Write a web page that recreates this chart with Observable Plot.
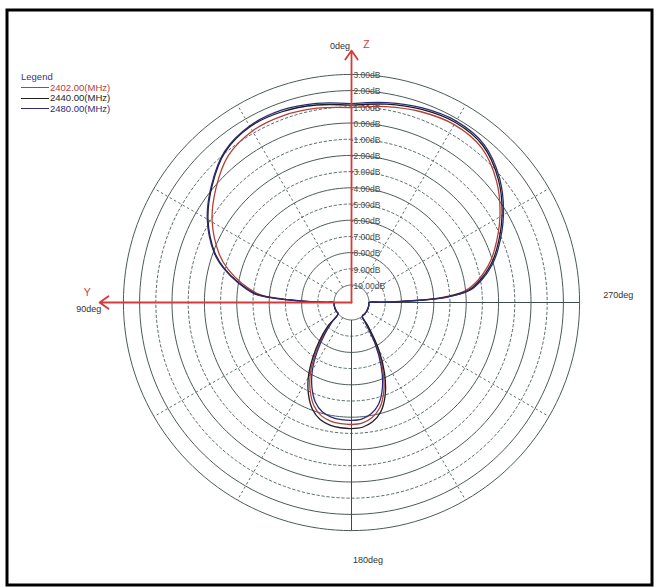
<!DOCTYPE html>
<html><head><meta charset="utf-8">
<script src="https://cdn.jsdelivr.net/npm/d3@7"></script>
<script src="https://cdn.jsdelivr.net/npm/@observablehq/plot@0.6"></script>
<style>
html,body{margin:0;padding:0;background:#fff;}
#wrap{position:relative;width:656px;height:587px;font-family:"Liberation Sans",Arial,sans-serif;}
#wrap svg{position:absolute;left:0;top:0;}
#legend{position:absolute;left:21px;top:72px;font-size:9.5px;line-height:10.5px;}
#legend .title{color:#33337f;}
#legend .row{display:flex;align-items:center;height:10.5px;}
#legend .sw{display:inline-block;width:28px;height:0;border-top:1px solid;margin-right:1px;}
</style></head><body><div id="wrap"></div>
<script>
// ---- data ----
const angles = [0,10,20,30,40,50,60,70,75,80,85,87,88.5,89.5,90,100,110,120,130,135,140,145,150,155,160,165,170,175,180,185,190,195,200,205,210,215,218,230,240,250,260,270,270.5,271.5,273,276,280,285,290,300,310,320,330,340,350,360];
const gain2402 = [0.95,1.1,1.2,1.15,0.75,-0.15,-1.15,-2.4,-3.2,-4.2,-5.4,-6.8,-8.3,-9.6,-10,-10,-10,-10,-10,-9.2,-8.25,-7.15,-6.0,-5.05,-4.3,-3.85,-3.65,-3.57,-3.55,-3.6,-3.85,-4.35,-5.25,-6.5,-7.95,-9.5,-10,-10,-10,-10,-10,-10,-9.3,-7.8,-5.6,-4.0,-3.15,-2.35,-1.7,-0.5,0.6,1.4,1.6,1.45,1.2,0.95];
const gain2440 = [1.1,1.3,1.45,1.45,1.05,0.15,-0.85,-2.1,-2.95,-4.0,-5.2,-6.6,-8.2,-9.5,-10,-10,-10,-10,-10,-9.0,-8.0,-6.9,-5.75,-4.8,-4.05,-3.6,-3.4,-3.32,-3.3,-3.35,-3.6,-4.1,-5.0,-6.25,-7.7,-9.3,-10,-10,-10,-10,-10,-10,-9.2,-7.6,-5.4,-3.8,-3.0,-2.2,-1.55,-0.35,0.75,1.55,1.75,1.6,1.35,1.1];
const gain2480 = [1.2,1.4,1.55,1.5,1.1,0.2,-0.8,-2.05,-2.9,-3.95,-5.1,-6.5,-8.1,-9.5,-10,-10,-10,-10,-10,-9.4,-8.5,-7.4,-6.25,-5.3,-4.55,-4.1,-3.9,-3.82,-3.8,-3.85,-4.1,-4.6,-5.5,-6.75,-8.2,-9.7,-10,-10,-10,-10,-10,-10,-9.1,-7.5,-5.3,-3.7,-2.9,-2.1,-1.45,-0.25,0.85,1.65,1.85,1.7,1.45,1.2];
const seriesNames = ["2402.00(MHz)","2440.00(MHz)","2480.00(MHz)"];
const ringValues = [-10,-9,-8,-7,-6,-5,-4,-3,-2,-1,0,1,2,3];
const spokeAngles = [30,60,120,150,210,240,300,330];
const degLabels = ["0deg","90deg","180deg","270deg"];
const degAngles = [0,90,180,270];
const axisNames = ["Z","Y"];
const axisAngles = [0,90];

// ---- geometry / style ----
const seriesColors = ["#b2403c","#1e1e1e","#2c2c78"];
const K = 16.2, R0 = 17.5, CX = 351, CY = 302;
const minDb = -10, maxDb = 3;
const rho0 = R0 / K;
const rho = v => Math.max(v, minDb) - minDb + rho0;
const D = rho(maxDb);
const Rpx = D * K;
const rad = a => a * Math.PI / 180;
const px = (a, r) => -r * Math.sin(rad(a));
const py = (a, r) => r * Math.cos(rad(a));
const gains = [gain2402, gain2440, gain2480];

const curves = gains.flatMap((g, s) => angles.map((a, i) => ({a, g: g[i], s: seriesNames[s]})));
const ringPts = ringValues.flatMap(v => d3.range(0, 361, 2).map(a => ({v, a})));
const solidRing = v => v % 2 === 0 || v === maxDb;
const arrowLen = 15.55;
const labelRho = 16;
const degPlace = {"0deg":[-11.5,3],"90deg":[-3.5,7],"180deg":[16.5,-2],"270deg":[7.5,-7]};
const namePlace = {"Z":[15,1],"Y":[-5,-10]};

const marks = [
  Plot.frame({stroke:"#000", strokeWidth:3, insetLeft:6.5, insetTop:9.5, insetRight:4.5, insetBottom:2.5}),
  Plot.line(ringPts.filter(d => !solidRing(d.v)), {x: d => px(d.a, rho(d.v)), y: d => py(d.a, rho(d.v)), z: "v", stroke:"#5f6f6f", strokeWidth:1, strokeDasharray:"2.5,2.5"}),
  Plot.line(ringPts.filter(d => solidRing(d.v)), {x: d => px(d.a, rho(d.v)), y: d => py(d.a, rho(d.v)), z: "v", stroke:"#4c5a5a", strokeWidth:1}),
  Plot.link(spokeAngles, {x1: a => px(a, rho0), y1: a => py(a, rho0), x2: a => px(a, D), y2: a => py(a, D), stroke:"#5f6f6f", strokeWidth:1, strokeDasharray:"2.5,2.5"}),
  Plot.link([180,270], {x1: a => px(a, rho0), y1: a => py(a, rho0), x2: a => px(a, D), y2: a => py(a, D), stroke:"#3e4a4a", strokeWidth:1}),
  Plot.text(ringValues.filter(v => v >= 0), {x: 0, y: v => rho(v), text: v => v.toFixed(2) + "dB", textAnchor:"start", dx:2, dy:1, fontSize:8.5, fill:"#4a4a4a", fontFamily:"Liberation Sans, Arial, sans-serif"}),
  Plot.text(ringValues.filter(v => v < 0), {x: 0, y: v => rho(v), text: v => v.toFixed(2) + "dB", textAnchor:"start", dx:-0.9, dy:1, fontSize:8.5, fill:"#4a4a4a", fontFamily:"Liberation Sans, Arial, sans-serif"}),
  ...seriesNames.map((name, s) => Plot.line(curves.filter(d => d.s === name), {x: d => px(d.a, rho(d.g)), y: d => py(d.a, rho(d.g)), stroke: seriesColors[s], strokeWidth:1.3, curve:"catmull-rom"})),
  Plot.arrow(axisAngles, {x1: 0, y1: 0, x2: a => px(a, arrowLen), y2: a => py(a, arrowLen), stroke:"#d63a3a", strokeWidth:1.8, headLength:9, headAngle:70}),
  ...degLabels.map((t, i) => Plot.text([t], {x: px(degAngles[i], labelRho), y: py(degAngles[i], labelRho), text: d => d, dx: degPlace[t][0], dy: degPlace[t][1], fontSize:9, fill:"#333", fontFamily:"Liberation Sans, Arial, sans-serif"})),
  ...axisNames.map((t, i) => Plot.text([t], {x: px(axisAngles[i], labelRho), y: py(axisAngles[i], labelRho), text: d => d, dx: namePlace[t][0], dy: namePlace[t][1], fontSize:10.5, fill:"#d63a3a", fontFamily:"Liberation Sans, Arial, sans-serif"}))
];

const chart = Plot.plot({
  width: 656, height: 587, margin: 0,
  style: {background: "transparent", fontFamily: "Liberation Sans, Arial, sans-serif"},
  x: {domain: [-D, D], range: [CX - Rpx, CX + Rpx], axis: null},
  y: {domain: [-D, D], range: [CY + Rpx, CY - Rpx], axis: null},
  marks
});
const wrap = document.getElementById("wrap");
wrap.appendChild(chart);

const legend = document.createElement("div");
legend.id = "legend";
legend.innerHTML = `<div class="title">Legend</div>` + seriesNames.map((n, i) =>
  `<div class="row"><span class="sw" style="border-color:${seriesColors[i]}"></span><span style="color:${seriesColors[i]}">${n}</span></div>`).join("");
wrap.appendChild(legend);
</script>
</body></html>
